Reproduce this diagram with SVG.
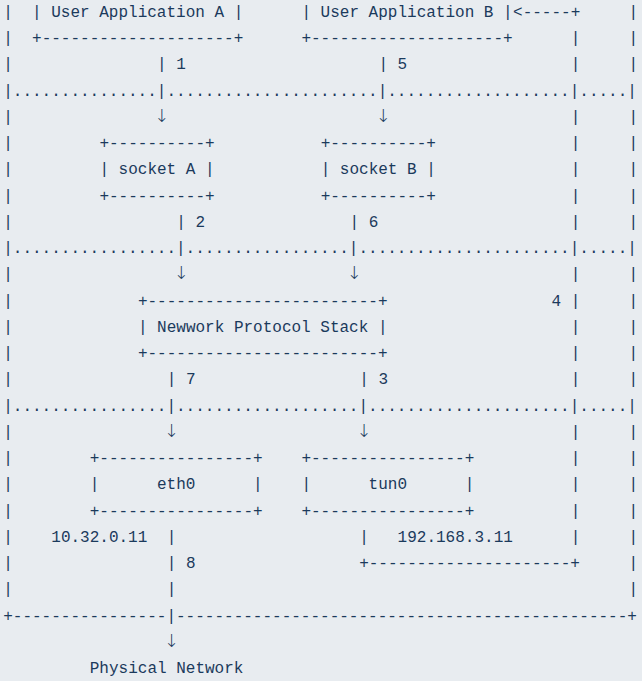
<svg xmlns="http://www.w3.org/2000/svg" width="642" height="681" viewBox="0 0 642 681">
<style>
text{font-family:"Liberation Mono","DejaVu Sans Mono",monospace;font-size:16px;fill:#1b3a5c;white-space:pre}
text.arr{font-family:"DejaVu Sans ExtraLight","DejaVu Sans",sans-serif;font-weight:200;font-size:18px;text-anchor:middle}
</style>
<rect x="0" y="0" width="642" height="681" fill="#e8ecf0"/>
<g id="frame">
<text xml:space="preserve"><tspan x="3.2" y="17">|</tspan><tspan x="3.2" y="43.24">|</tspan><tspan x="3.2" y="69.48">|</tspan><tspan x="3.2" y="121.96">|</tspan><tspan x="3.2" y="148.2">|</tspan><tspan x="3.2" y="174.44">|</tspan><tspan x="3.2" y="200.68">|</tspan><tspan x="3.2" y="226.92">|</tspan><tspan x="3.2" y="279.4">|</tspan><tspan x="3.2" y="305.64">|</tspan><tspan x="3.2" y="331.88">|</tspan><tspan x="3.2" y="358.12">|</tspan><tspan x="3.2" y="384.36">|</tspan><tspan x="3.2" y="436.84">|</tspan><tspan x="3.2" y="463.08">|</tspan><tspan x="3.2" y="489.32">|</tspan><tspan x="3.2" y="515.56">|</tspan><tspan x="3.2" y="541.8">|</tspan><tspan x="3.2" y="568.04">|</tspan><tspan x="3.2" y="594.28">|</tspan></text>
<text xml:space="preserve"><tspan x="628.5" y="17">|</tspan><tspan x="628.5" y="43.24">|</tspan><tspan x="628.5" y="69.48">|</tspan><tspan x="628.5" y="121.96">|</tspan><tspan x="628.5" y="148.2">|</tspan><tspan x="628.5" y="174.44">|</tspan><tspan x="628.5" y="200.68">|</tspan><tspan x="628.5" y="226.92">|</tspan><tspan x="628.5" y="279.4">|</tspan><tspan x="628.5" y="305.64">|</tspan><tspan x="628.5" y="331.88">|</tspan><tspan x="628.5" y="358.12">|</tspan><tspan x="628.5" y="384.36">|</tspan><tspan x="628.5" y="436.84">|</tspan><tspan x="628.5" y="463.08">|</tspan><tspan x="628.5" y="489.32">|</tspan><tspan x="628.5" y="515.56">|</tspan><tspan x="628.5" y="541.8">|</tspan><tspan x="628.5" y="568.04">|</tspan><tspan x="628.5" y="594.28">|</tspan></text>
<text x="3.2" y="95.72" xml:space="preserve">|...............|......................|...................|.....|</text>
<text x="3.2" y="253.16" xml:space="preserve">|.................|.................|......................|.....|</text>
<text x="3.2" y="410.6" xml:space="preserve">|................|...................|.....................|.....|</text>
<text x="3.2" y="620.52" xml:space="preserve">+----------------|-----------------------------------------------+</text>
</g>
<g id="node-app-a">
<text x="32.06" y="17" xml:space="preserve">| User Application A |</text>
<text x="32.06" y="43.24" xml:space="preserve">+--------------------+</text>
</g>
<g id="node-app-b">
<text x="301.42" y="17" xml:space="preserve">| User Application B |</text>
<text x="301.42" y="43.24" xml:space="preserve">+--------------------+</text>
</g>
<g id="node-socket-a">
<text x="99.4" y="148.2" xml:space="preserve">+----------+</text>
<text x="99.4" y="174.44" xml:space="preserve">| socket A |</text>
<text x="99.4" y="200.68" xml:space="preserve">+----------+</text>
</g>
<g id="node-socket-b">
<text x="320.66" y="148.2" xml:space="preserve">+----------+</text>
<text x="320.66" y="174.44" xml:space="preserve">| socket B |</text>
<text x="320.66" y="200.68" xml:space="preserve">+----------+</text>
</g>
<g id="node-stack">
<text x="137.88" y="305.64" xml:space="preserve">+------------------------+</text>
<text x="137.88" y="331.88" xml:space="preserve">| Newwork Protocol Stack |</text>
<text x="137.88" y="358.12" xml:space="preserve">+------------------------+</text>
</g>
<g id="node-eth0">
<text x="89.78" y="463.08" xml:space="preserve">+----------------+</text>
<text x="89.78" y="489.32" xml:space="preserve">|      eth0      |</text>
<text x="89.78" y="515.56" xml:space="preserve">+----------------+</text>
<text x="51.3" y="541.8">10.32.0.11</text>
</g>
<g id="node-tun0">
<text x="301.42" y="463.08" xml:space="preserve">+----------------+</text>
<text x="301.42" y="489.32" xml:space="preserve">|      tun0      |</text>
<text x="301.42" y="515.56" xml:space="preserve">+----------------+</text>
<text x="397.62" y="541.8">192.168.3.11</text>
</g>
<g id="node-physical">
<text x="89.78" y="673">Physical Network</text>
</g>
<g id="connectors">
<text x="157.12" y="69.48">|</text><text x="176.36" y="69.48">1</text>
<text x="378.38" y="69.48">|</text><text x="397.62" y="69.48">5</text>
<text class="arr" x="161.9" y="122">↓</text><text class="arr" x="383.2" y="122">↓</text>
<text x="176.36" y="226.92">|</text><text x="195.6" y="226.92">2</text>
<text x="349.52" y="226.92">|</text><text x="368.76" y="226.92">6</text>
<text class="arr" x="181.2" y="279.4">↓</text><text class="arr" x="354.3" y="279.4">↓</text>
<text x="166.74" y="384.36">|</text><text x="185.98" y="384.36">7</text>
<text x="359.14" y="384.36">|</text><text x="378.38" y="384.36">3</text>
<text class="arr" x="171.6" y="436.84">↓</text><text class="arr" x="364" y="436.84">↓</text>
<text x="166.74" y="541.8">|</text><text x="359.14" y="541.8">|</text>
<text x="166.74" y="568.04">|</text><text x="185.98" y="568.04">8</text>
<text x="166.74" y="594.28">|</text>
<text class="arr" x="171.6" y="646.76">↓</text>
<text x="359.14" y="568.04" xml:space="preserve">+---------------------+</text>
<text x="513.06" y="17" xml:space="preserve">&lt;-----+</text>
<text x="551.54" y="305.64">4</text>
<text xml:space="preserve"><tspan x="570.78" y="43.24">|</tspan><tspan x="570.78" y="69.48">|</tspan><tspan x="570.78" y="121.96">|</tspan><tspan x="570.78" y="148.2">|</tspan><tspan x="570.78" y="174.44">|</tspan><tspan x="570.78" y="200.68">|</tspan><tspan x="570.78" y="226.92">|</tspan><tspan x="570.78" y="279.4">|</tspan><tspan x="570.78" y="305.64">|</tspan><tspan x="570.78" y="331.88">|</tspan><tspan x="570.78" y="358.12">|</tspan><tspan x="570.78" y="384.36">|</tspan><tspan x="570.78" y="436.84">|</tspan><tspan x="570.78" y="463.08">|</tspan><tspan x="570.78" y="489.32">|</tspan><tspan x="570.78" y="515.56">|</tspan><tspan x="570.78" y="541.8">|</tspan></text>
</g>
</svg>
